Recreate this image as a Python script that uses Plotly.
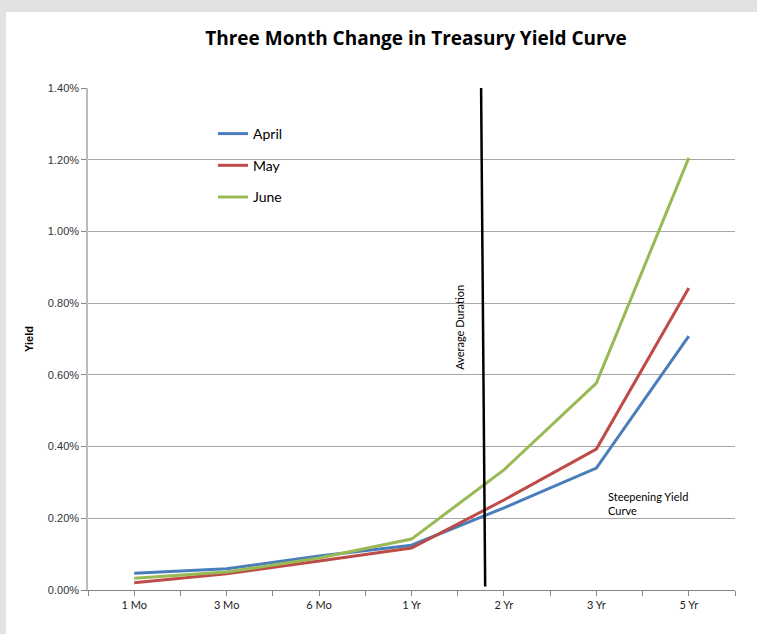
import plotly.graph_objects as go

categories = ["1 Mo", "3 Mo", "6 Mo", "1 Yr", "2 Yr", "3 Yr", "5 Yr"]
april = [0.047, 0.059, 0.095, 0.125, 0.229, 0.340, 0.708]
may = [0.020, 0.045, 0.081, 0.117, 0.251, 0.393, 0.842]
june = [0.033, 0.050, 0.089, 0.142, 0.335, 0.577, 1.205]
y_ticks = [0.0, 0.2, 0.4, 0.6, 0.8, 1.0, 1.2, 1.4]
y_tick_labels = [f"{v:.2f}%" for v in y_ticks]

series = [("April", april, "#4a7ebb"), ("May", may, "#be4b48"), ("June", june, "#98b954")]
xs = list(range(len(categories)))

fig = go.Figure()
for name, vals, col in series:
    fig.add_trace(go.Scatter(x=xs, y=vals, mode="lines", name=name, legendgroup=name,
                             line=dict(color=col, width=3)))

L, R, T, B = 88, 22, 88, 44
W, H = 757, 634
pw, ph = W - L - R, H - T - B

def px(xp):
    return (xp - L) / pw

def py(yp):
    return (H - B - yp) / ph

shapes = [
    dict(type="rect", xref="paper", yref="paper", x0=px(6), x1=px(770), y0=py(650), y1=py(12),
         fillcolor="white", line=dict(width=0), layer="below"),
    dict(type="rect", xref="paper", yref="paper", x0=px(148), x1=px(302), y0=py(215), y1=py(110),
         fillcolor="white", line=dict(width=0), layer="between"),
    dict(type="line", xref="x", yref="y", x0=3.753, x1=3.797, y0=1.40, y1=0.01,
         line=dict(color="black", width=2.5)),
]

fig.update_layout(
    width=W, height=H,
    margin=dict(l=L, r=R, t=T, b=B),
    paper_bgcolor="#e1e2e4",
    plot_bgcolor="white",
    shapes=shapes,
    title=dict(text="<b>Three Month Change in Treasury Yield Curve</b>", x=416 / W, xanchor="center",
               y=1 - 38 / H, yanchor="middle", font=dict(family="Open Sans", size=19, color="black")),
    legend=dict(x=px(213), y=py(118), xanchor="left", yanchor="top", bgcolor="rgba(0,0,0,0)",
                font=dict(family="Lato", size=14, color="black"), traceorder="grouped",
                tracegroupgap=10.5),
    xaxis=dict(range=[-0.5, 6.5], tickmode="array",
               tickvals=[i / 2 - 0.5 for i in range(15)],
               ticktext=[categories[(i - 1) // 2] if i % 2 == 1 else "" for i in range(15)],
               ticks="outside", ticklen=5, tickcolor="#868686", showline=True, linecolor="#868686",
               linewidth=1, showgrid=False, zeroline=False,
               tickfont=dict(family="Lato", size=11, color="#222222")),
    yaxis=dict(range=[0, 1.4], tickmode="array", tickvals=y_ticks, ticktext=y_tick_labels,
               ticks="outside", ticklen=5, tickcolor="#868686", showline=True, linecolor="#bcbcbc",
               linewidth=1.5, showgrid=True, gridcolor="#a6a6a6", gridwidth=1, zeroline=False,
               tickfont=dict(family="Liberation Sans", size=11, color="#333333"),
               title=dict(text="<b>Yield</b>", standoff=12,
                          font=dict(family="Liberation Sans", size=11, color="black"))),
    annotations=[
        dict(text="Average Duration", x=3.52, y=0.733, xref="x", yref="y", textangle=-90,
             showarrow=False, font=dict(family="Lato", size=11, color="black")),
        dict(text="Steepening Yield<br>Curve", x=5.104, y=0.2426, xref="x", yref="y", xanchor="left",
             align="left", showarrow=False, font=dict(family="Lato", size=11, color="black")),
    ],
)

fig.write_html("out.html")
